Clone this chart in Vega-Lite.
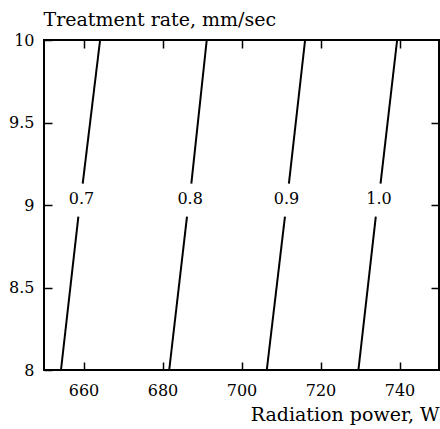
{
  "$schema": "https://vega.github.io/schema/vega-lite/v6.json",
  "autosize": "none",
  "width": 395,
  "height": 330,
  "padding": {"left": 44, "top": 40, "right": 1, "bottom": 59},
  "config": {
    "view": {"stroke": "black", "strokeWidth": 2},
    "axis": {"grid": false, "domain": false, "tickColor": "black", "tickWidth": 1.5, "tickSize": -8, "labelColor": "black", "titleColor": "black", "labelFont": "DejaVu Serif", "titleFont": "DejaVu Serif", "labelFontSize": 16, "titleFontSize": 19, "titleFontWeight": "normal", "labelFlush": false, "labelOverlap": false}
  },
  "datasets": {
    "lines": [
      {"seg": "0.7a", "power": 654.3, "rate": 8},
      {"seg": "0.7a", "power": 658.7, "rate": 8.93},
      {"seg": "0.7b", "power": 659.8, "rate": 9.13},
      {"seg": "0.7b", "power": 664.2, "rate": 10},
      {"seg": "0.8a", "power": 681.7, "rate": 8},
      {"seg": "0.8a", "power": 686.2, "rate": 8.93},
      {"seg": "0.8b", "power": 687.3, "rate": 9.13},
      {"seg": "0.8b", "power": 691.2, "rate": 10},
      {"seg": "0.9a", "power": 706.4, "rate": 8},
      {"seg": "0.9a", "power": 711.0, "rate": 8.93},
      {"seg": "0.9b", "power": 712.0, "rate": 9.13},
      {"seg": "0.9b", "power": 716.1, "rate": 10},
      {"seg": "1.0a", "power": 729.6, "rate": 8},
      {"seg": "1.0a", "power": 734.0, "rate": 8.93},
      {"seg": "1.0b", "power": 735.2, "rate": 9.13},
      {"seg": "1.0b", "power": 739.4, "rate": 10}
    ],
    "labels": [
      {"label": "0.7", "power": 659.5, "rate": 9},
      {"label": "0.8", "power": 687.0, "rate": 9},
      {"label": "0.9", "power": 711.4, "rate": 9},
      {"label": "1.0", "power": 734.8, "rate": 9}
    ]
  },
  "resolve": {"axis": {"x": "independent", "y": "independent"}},
  "layer": [
    {
      "data": {"name": "lines"},
      "mark": {"type": "line", "color": "black", "strokeWidth": 2},
      "encoding": {
        "x": {"field": "power", "type": "quantitative", "scale": {"domain": [650, 750], "nice": false, "zero": false},
              "axis": {"orient": "bottom", "values": [660, 680, 700, 720, 740], "labelPadding": 20, "title": "Radiation power, W", "titleAlign": "right", "titleAnchor": "end", "titleX": 395, "titleY": 50, "titleBaseline": "alphabetic"}},
        "y": {"field": "rate", "type": "quantitative", "scale": {"domain": [8, 10], "nice": false, "zero": false},
              "axis": {"orient": "left", "values": [8, 8.5, 9, 9.5, 10], "format": "~g", "labelPadding": 18, "labelBaseline": "middle", "title": "Treatment rate, mm/sec", "titleAngle": 0, "titleAlign": "left", "titleAnchor": "start", "titleX": -1, "titleY": -15, "titleBaseline": "alphabetic"}},
        "detail": {"field": "seg"}
      }
    },
    {
      "data": {"name": "labels"},
      "mark": {"type": "text", "font": "DejaVu Serif", "fontSize": 16, "color": "black", "baseline": "middle", "align": "center", "dy": -6},
      "encoding": {
        "x": {"field": "power", "type": "quantitative", "scale": {"domain": [650, 750], "nice": false, "zero": false},
              "axis": {"orient": "top", "values": [660, 680, 700, 720, 740], "labels": false, "title": null}},
        "y": {"field": "rate", "type": "quantitative", "scale": {"domain": [8, 10], "nice": false, "zero": false},
              "axis": {"orient": "right", "values": [8.5, 9, 9.5], "labels": false, "title": null}},
        "text": {"field": "label"}
      }
    }
  ]
}
